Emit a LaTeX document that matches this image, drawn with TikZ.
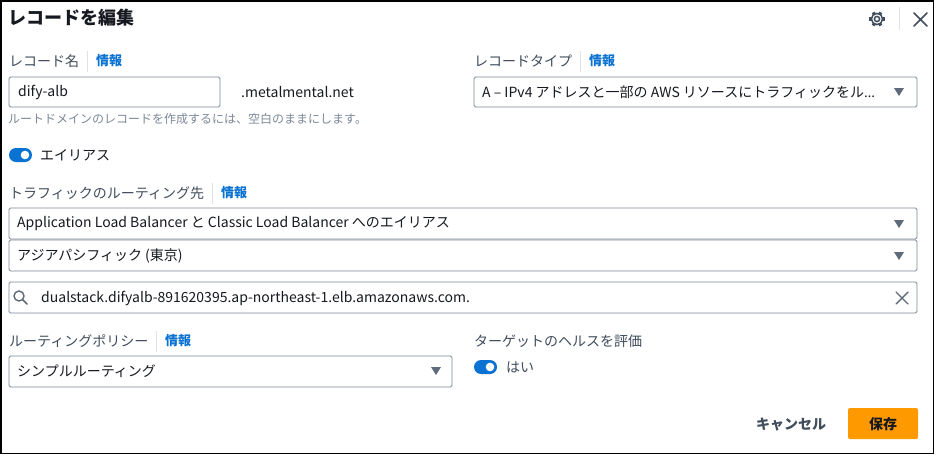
\documentclass[tikz,border=0pt]{standalone}
\usepackage{fontspec}
\setmainfont{Noto Sans CJK JP}
\newfontfamily\lat{Open Sans}
\definecolor{lbl}{HTML}{414D5C}
\definecolor{txt}{HTML}{16191F}
\definecolor{bord}{HTML}{7D8998}
\definecolor{link}{HTML}{0972D3}
\definecolor{sep}{HTML}{E0E3E6}
\definecolor{hint}{HTML}{7D8998}
\definecolor{icon}{HTML}{5F6B7A}
\definecolor{orng}{HTML}{FF9900}
\tikzset{
  lab/.style={anchor=west, inner sep=0pt, text=lbl, font=\fontsize{14}{16}\selectfont},
  val/.style={anchor=west, inner sep=0pt, text=txt, font=\fontsize{14}{16}\selectfont},
  info/.style={anchor=west, inner sep=0pt, text=link, font=\bfseries\fontsize{13}{15}\selectfont},
  field/.style={draw=bord, line width=0.9pt, fill=white, rounded corners=1.5pt},
  sepline/.style={draw=sep, line width=0.8pt},
  tri/.style={fill=icon},
  icn/.style={draw=lbl, line width=1.5pt, line cap=round},
  toggle/.style={fill=link, rounded corners=7pt},
}
\begin{document}
\begin{tikzpicture}[x=1pt, y=-1pt]
\useasboundingbox (0,0) rectangle (936,455);
\fill[white] (0,0) rectangle (936,455);
\draw[black, line width=1.5pt] (0.75,0.75) rectangle (933.5,453.5);

% title
\node[anchor=west, inner sep=0pt, text=txt, font=\bfseries\fontsize{18}{20}\selectfont] (title) at (8,18) {レコードを編集};
% gear
\begin{scope}[shift={(877,19)}]
\draw[icn, line width=1.5pt] (0,0) circle (2.6);
\draw[icn, line width=1.5pt] (0,0) circle (5.6);
\foreach \a in {0,60,...,300}
  \draw[lbl, line width=3.2pt] (\a:5.4) -- (\a:7.6);
\end{scope}
\coordinate (hs1) at (899,7);
\coordinate (hs2) at (899,30);
\draw[sepline] (hs1) -- (hs2);
\coordinate (c1) at (914,13);
\coordinate (c2) at (927,26);
\coordinate (c3) at (914,26);
\coordinate (c4) at (927,13);
\draw[icn] (c1) -- (c2) (c3) -- (c4);

% record name
\node[lab] (rn) at (9,61) {レコード名};
\coordinate (s1a) at (87,51); \coordinate (s1b) at (87,72);
\draw[sepline] (s1a) -- (s1b);
\node[info] (rni) at (96,61) {情報};
\draw[field] (9,77) rectangle (220,107);
\node[val] (rnv) at (18,92) {dify-alb};
\node[val] (dom) at (241,92) {.metalmental.net};
\node[anchor=west, inner sep=0pt, text=hint, font=\fontsize{12}{14}\selectfont] (hintt) at (8,119) {ルートドメインのレコードを作成するには、空白のままにします。};

% alias toggle
\fill[toggle] (9,148) rectangle (32,162);
\fill[white] (25,155) circle (4.3);
\node[val] (alias) at (40,155) {エイリアス};

% record type
\node[lab] (rt) at (474,61) {レコードタイプ};
\coordinate (s2a) at (580,51); \coordinate (s2b) at (580,72);
\draw[sepline] (s2a) -- (s2b);
\node[info] (rti) at (589,61) {情報};
\draw[field] (474,77) rectangle (917,107);
\node[val] (rtv) at (482,92) {A – IPv4 アドレスと一部の AWS リソースにトラフィックをル{\lat …}};
\fill[tri] (894,88) -- (904,88) -- (899,96) -- cycle;

% routing target
\node[lab] (rtg) at (9,193) {トラフィックのルーティング先};
\coordinate (s3a) at (212,183); \coordinate (s3b) at (212,204);
\draw[sepline] (s3a) -- (s3b);
\node[info] (rtgi) at (221,193) {情報};
\draw[field] (9,208) rectangle (917,239);
\node[val] (d1) at (17,224) {Application Load Balancer と Classic Load Balancer へのエイリアス};
\fill[tri] (894,220) -- (904,220) -- (899,228) -- cycle;
\draw[field] (9,240) rectangle (917,271);
\node[val] (d2) at (17,256) {アジアパシフィック (東京)};
\fill[tri] (894,252) -- (904,252) -- (899,260) -- cycle;
\draw[field] (9,282) rectangle (917,313);
\draw[icn, draw=icon, line width=1.4pt] (19,296) circle (5);
\coordinate (sh1) at (22.8,299.8); \coordinate (sh2) at (27,304);
\draw[icn, draw=icon, line width=1.6pt] (sh1) -- (sh2);
\node[val] (d3) at (41,298) {dualstack.difyalb-891620395.ap-northeast-1.elb.amazonaws.com.};
\coordinate (x1) at (896,292); \coordinate (x2) at (908,304);
\coordinate (x3) at (896,304); \coordinate (x4) at (908,292);
\draw[icn, draw=icon, line width=1.4pt] (x1) -- (x2) (x3) -- (x4);

% routing policy
\node[lab] (rp) at (9,341) {ルーティングポリシー};
\coordinate (s4a) at (156,331); \coordinate (s4b) at (156,352);
\draw[sepline] (s4a) -- (s4b);
\node[info] (rpi) at (165,341) {情報};
\draw[field] (9,356) rectangle (452,387);
\node[val] (rpv) at (17,371) {シンプルルーティング};
\fill[tri] (431,367) -- (441,367) -- (436,375) -- cycle;

% health
\node[lab] (hl) at (474,341) {ターゲットのヘルスを評価};
\fill[toggle] (474,360) rectangle (497,374);
\fill[white] (490,367) circle (4.3);
\node[val, text=lbl] (yes) at (506,367) {はい};

% buttons
\node[anchor=west, inner sep=0pt, text=lbl, font=\bfseries\fontsize{14}{16}\selectfont] (cancel) at (756,424) {キャンセル};
\fill[orng, rounded corners=2pt] (848,408) rectangle (918,439);
\node[inner sep=0pt, text=txt, font=\bfseries\fontsize{14}{16}\selectfont] (save) at (883,424) {保存};
\end{tikzpicture}
\end{document}
